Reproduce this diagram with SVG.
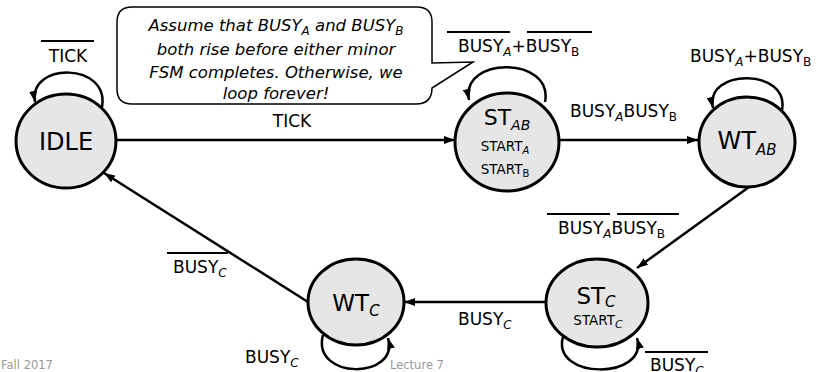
<svg xmlns="http://www.w3.org/2000/svg" width="831" height="372" viewBox="0 0 831 372">
  <defs>
    <marker id="ah" viewBox="0 0 11 8" refX="11" refY="4" markerWidth="11" markerHeight="8" markerUnits="userSpaceOnUse" orient="auto">
      <path d="M0,0 L11,4 L0,8 Z" fill="#000"/>
    </marker>
  </defs>
  <style>
    .state { fill: #e6e6e6; stroke: #000; stroke-width: 3; }
    .edge { fill: none; stroke: #000; stroke-width: 2.5; marker-end: url(#ah); }
    .ov { stroke: #000; stroke-width: 2; }
    text { font-family: "DejaVu Sans", "Liberation Sans", sans-serif; fill: #000; }
    .lbl { font-size: 17px; }
    .sub { font-size: 12px; }
    .it { font-style: italic; }
    .note { font-size: 16.5px; font-style: italic; }
    .foot { font-size: 11.5px; fill: #999; }
  </style>
  <rect width="831" height="372" fill="#fff"/>

  <g id="callout">
    <path d="M 132 7 H 417 Q 432 7 432 22 V 63 L 473 62 L 432 88 Q 432 104 416 104 H 132 Q 117 104 117 89 V 22 Q 117 7 132 7 Z" fill="#fff" stroke="#000" stroke-width="1.5"/>
    <text class="note" x="276" y="31" text-anchor="middle">Assume that BUSY<tspan class="sub" dy="4">A</tspan><tspan dy="-4"> and BUSY</tspan><tspan class="sub" dy="4">B</tspan></text>
    <text class="note" x="276" y="55" text-anchor="middle">both rise before either minor</text>
    <text class="note" x="276" y="78" text-anchor="middle">FSM completes. Otherwise, we</text>
    <text class="note" x="276" y="99" text-anchor="middle">loop forever!</text>
  </g>

  <g id="connectors">
    <path class="edge" d="M 116 140 H 455"/>
    <path class="edge" d="M 559 140 H 698"/>
    <path class="edge" d="M 749 187 L 637 268"/>
    <path class="edge" d="M 546 302 H 404"/>
    <path class="edge" d="M 308 302 L 104 173"/>
    <path class="edge" d="M 102 107 C 110 62, 28 62, 35 102"/>
    <path class="edge" d="M 545 102 C 554 56, 460 56, 469 100"/>
    <path class="edge" d="M 782 110 C 790 68, 704 68, 713 108"/>
    <path class="edge" d="M 563 337 C 551 380, 649 380, 637 338"/>
    <path class="edge" d="M 323 335 C 311 380, 400 380, 388 338"/>
  </g>

  <g id="edge-labels">
    <line class="ov" x1="41" y1="41" x2="94" y2="41"/>
    <text class="lbl" x="68" y="62" text-anchor="middle">TICK</text>

    <text class="lbl" x="292" y="127" text-anchor="middle">TICK</text>

    <line class="ov" x1="447" y1="32" x2="510" y2="32"/>
    <line class="ov" x1="527" y1="32" x2="592" y2="32"/>
    <text class="lbl" x="458" y="52">BUSY<tspan class="sub it" dy="4">A</tspan><tspan dy="-4">+BUSY</tspan><tspan class="sub" dy="4">B</tspan></text>

    <text class="lbl" x="690" y="62">BUSY<tspan class="sub it" dy="4">A</tspan><tspan dy="-4">+BUSY</tspan><tspan class="sub" dy="4">B</tspan></text>

    <text class="lbl" x="570" y="117">BUSY<tspan class="sub it" dy="4">A</tspan><tspan dy="-4">BUSY</tspan><tspan class="sub" dy="4">B</tspan></text>

    <line class="ov" x1="547" y1="214" x2="610" y2="214"/>
    <line class="ov" x1="617" y1="214" x2="679" y2="214"/>
    <text class="lbl" x="558" y="234">BUSY<tspan class="sub it" dy="4">A</tspan><tspan dy="-4">BUSY</tspan><tspan class="sub" dy="4">B</tspan></text>

    <text class="lbl" x="458" y="325">BUSY<tspan class="sub it" dy="4">C</tspan></text>

    <line class="ov" x1="645" y1="352" x2="708" y2="352"/>
    <text class="lbl" x="650" y="371">BUSY<tspan class="sub it" dy="4">C</tspan></text>

    <text class="lbl" x="245" y="363">BUSY<tspan class="sub it" dy="4">C</tspan></text>

    <line class="ov" x1="167" y1="253" x2="228" y2="253"/>
    <text class="lbl" x="173" y="273">BUSY<tspan class="sub it" dy="4">C</tspan></text>
  </g>

  <g id="IDLE">
    <ellipse class="state" cx="66" cy="141" rx="50" ry="47"/>
    <text x="66" y="150" text-anchor="middle" font-size="24">IDLE</text>
  </g>

  <g id="ST_AB">
    <ellipse class="state" cx="507" cy="142" rx="52" ry="49"/>
    <text x="507" y="125" text-anchor="middle" font-size="22">ST<tspan font-size="14" dy="5" class="it">AB</tspan></text>
    <text x="505" y="151" text-anchor="middle" font-size="13.5">START<tspan font-size="10" dy="3" class="it">A</tspan></text>
    <text x="505" y="174" text-anchor="middle" font-size="13.5">START<tspan font-size="10" dy="3">B</tspan></text>
  </g>

  <g id="WT_AB">
    <ellipse class="state" cx="747" cy="142" rx="48" ry="45"/>
    <text x="747" y="149" text-anchor="middle" font-size="24">WT<tspan font-size="15" dy="6" class="it">AB</tspan></text>
  </g>

  <g id="ST_C">
    <ellipse class="state" cx="597" cy="303" rx="51" ry="44"/>
    <text x="596" y="304" text-anchor="middle" font-size="23">ST<tspan font-size="15" dy="3" class="it">C</tspan></text>
    <text x="598" y="325" text-anchor="middle" font-size="13.5">START<tspan font-size="11" dy="3" class="it">C</tspan></text>
  </g>

  <g id="WT_C">
    <ellipse class="state" cx="356" cy="302" rx="48" ry="43"/>
    <text x="356" y="311" text-anchor="middle" font-size="23">WT<tspan font-size="15" dy="5" class="it">C</tspan></text>
  </g>

  <g id="footer">
    <text class="foot" x="1" y="369">Fall 2017</text>
    <text class="foot" x="390" y="369">Lecture 7</text>
  </g>
</svg>
